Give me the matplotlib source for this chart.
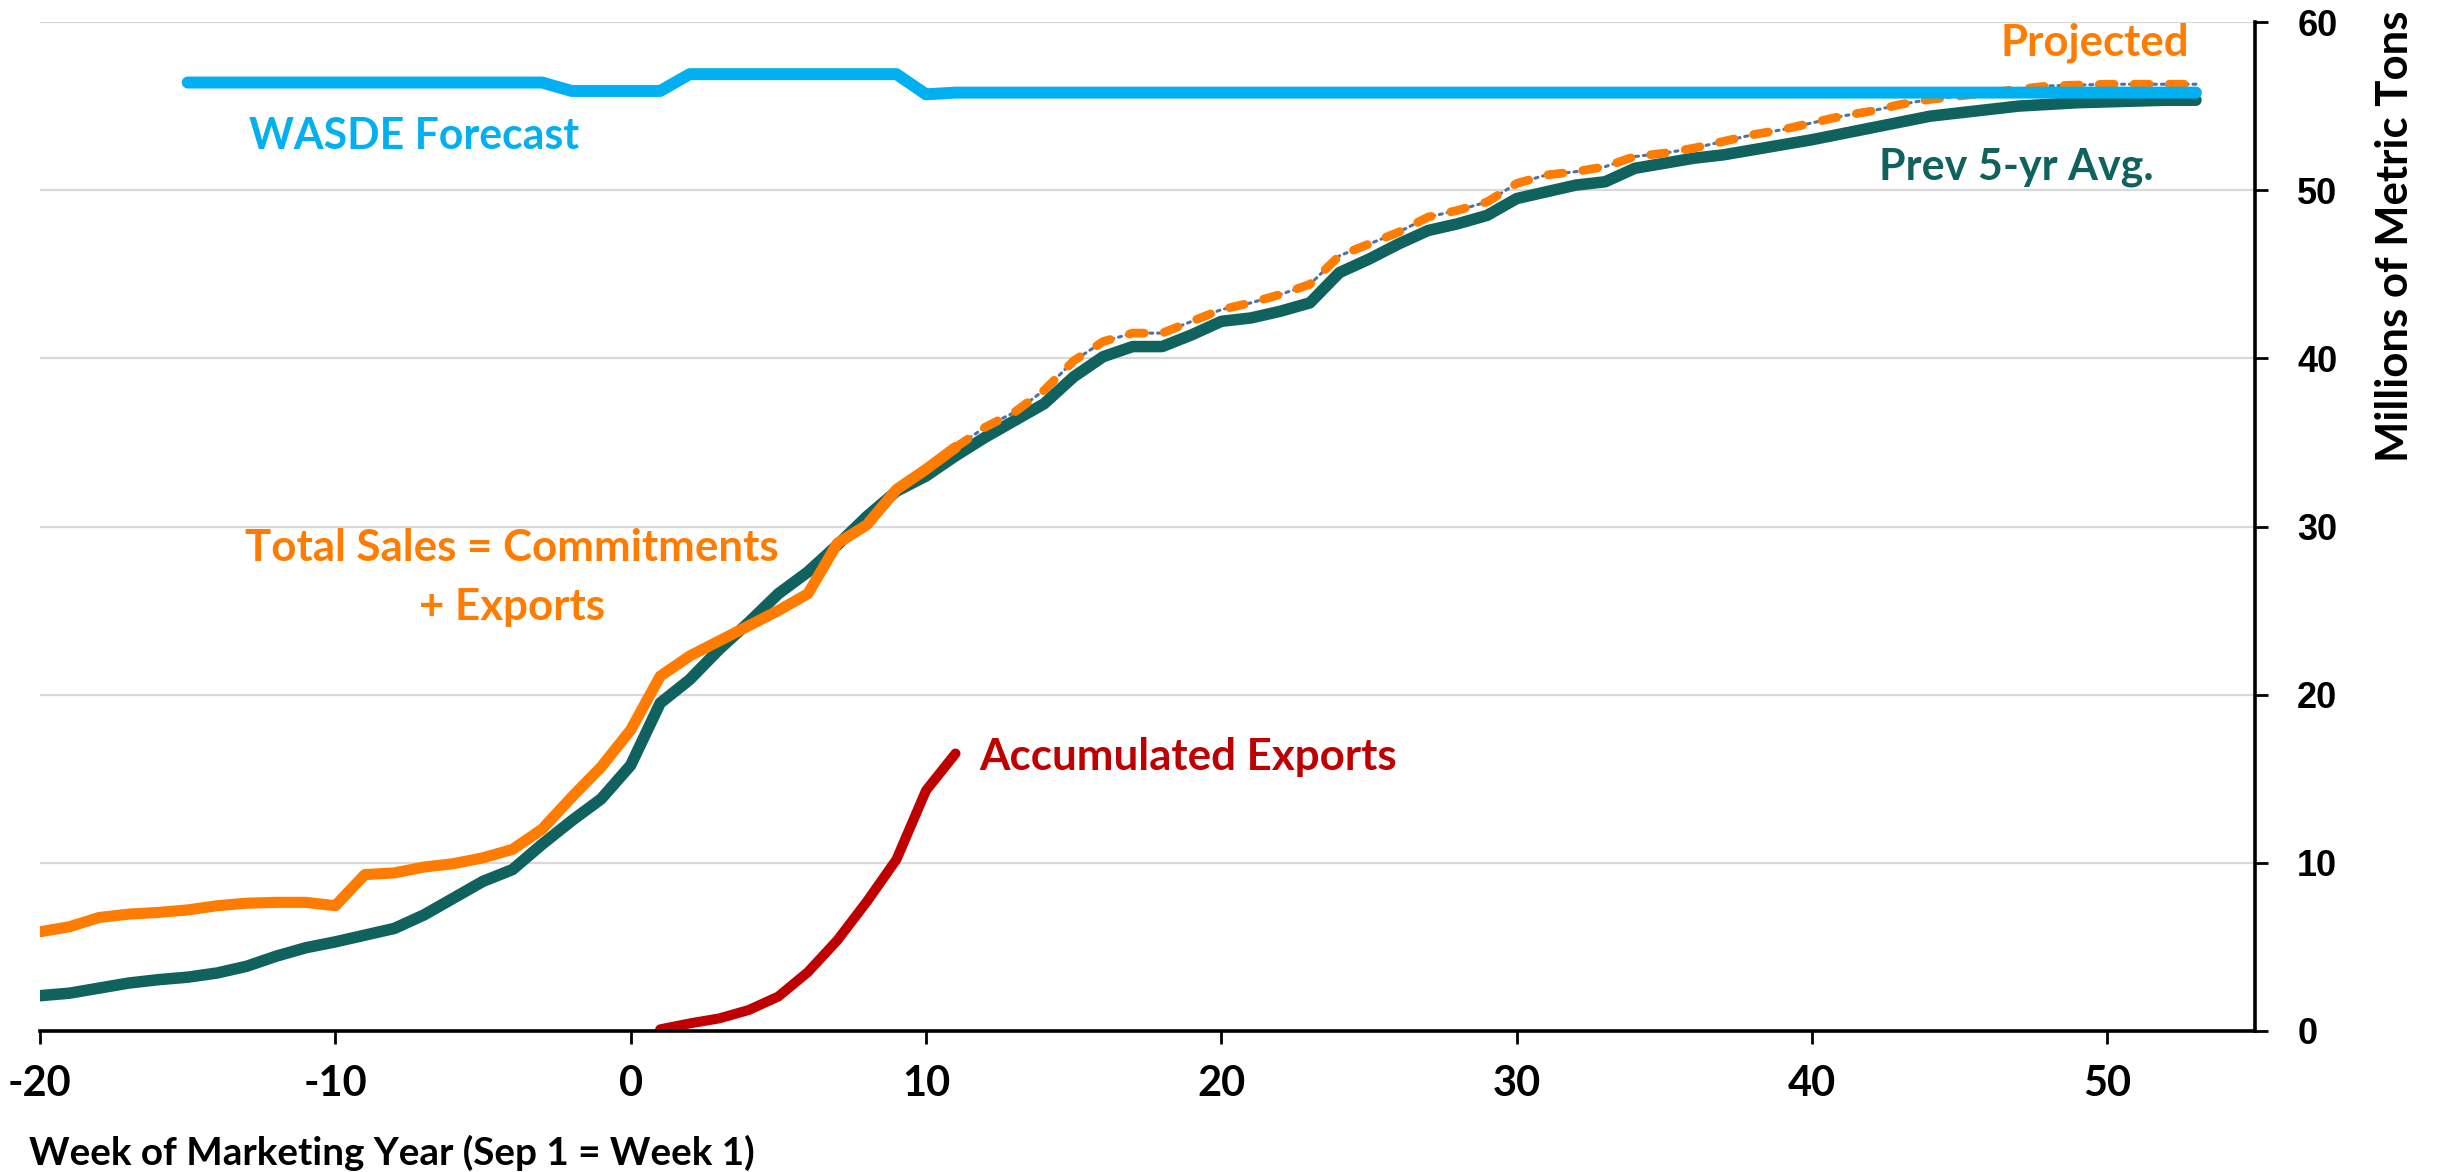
import matplotlib
matplotlib.use("Agg")
import matplotlib.pyplot as plt

# ---------------- data ----------------
weeks_total = list(range(-20, 12))
total_sales = [5.9, 6.2, 6.75, 6.95, 7.05, 7.2, 7.45, 7.6, 7.65, 7.65,
               7.45, 9.3, 9.4, 9.75, 9.95, 10.3, 10.8, 12.0, 13.9, 15.7,
               17.9, 21.1, 22.3, 23.2, 24.1, 25.0, 26.0, 29.0, 30.1, 32.2,
               33.4, 34.7]

weeks_proj = list(range(11, 54))
projected = [34.7, 35.9, 36.8, 38.1, 39.85, 41.0, 41.5, 41.5, 42.2, 42.9,
             43.3, 43.8, 44.4, 46.1, 46.8, 47.5, 48.4, 48.8, 49.3, 50.4,
             50.9, 51.1, 51.4, 52.0, 52.2, 52.5, 52.9, 53.3, 53.6, 54.0,
             54.4, 54.7, 55.1, 55.4, 55.6, 55.8, 56.0, 56.2, 56.25, 56.3,
             56.3, 56.3, 56.3]

weeks_avg = list(range(-20, 54))
prev_5yr_avg = [2.1, 2.25, 2.55, 2.85, 3.05, 3.2, 3.45, 3.85, 4.45, 4.95,
                5.3, 5.7, 6.1, 6.9, 7.9, 8.9, 9.6, 11.1, 12.5, 13.8,
                15.8, 19.5, 20.9, 22.7, 24.3, 26.0, 27.3, 28.9, 30.6, 32.1,
                33.0, 34.2, 35.3, 36.3, 37.3, 38.9, 40.1, 40.7, 40.7, 41.4,
                42.2, 42.4, 42.8, 43.3, 45.1, 45.9, 46.8, 47.6, 48.0, 48.5,
                49.5, 49.9, 50.3, 50.5, 51.3, 51.6, 51.9, 52.1, 52.4, 52.7,
                53.0, 53.35, 53.7, 54.05, 54.4, 54.6, 54.8, 55.0, 55.1, 55.2,
                55.25, 55.3, 55.35, 55.35]

weeks_exports = list(range(1, 12))
accumulated_exports = [0.1, 0.45, 0.75, 1.25, 2.05, 3.5, 5.4, 7.7, 10.2, 14.3, 16.5]

weeks_wasde = list(range(-15, 54))
wasde = [56.4, 56.4, 56.4, 56.4, 56.4, 56.4, 56.4, 56.4, 56.4, 56.4,
         56.4, 56.4, 56.4, 55.9, 55.9, 55.9, 55.9, 56.9, 56.9, 56.9,
         56.9, 56.9, 56.9, 56.9, 56.9, 55.7, 55.8, 55.8, 55.8, 55.8,
         55.8, 55.8, 55.8, 55.8, 55.8, 55.8, 55.8, 55.8, 55.8, 55.8,
         55.8, 55.8, 55.8, 55.8, 55.8, 55.8, 55.8, 55.8, 55.8, 55.8,
         55.8, 55.8, 55.8, 55.8, 55.8, 55.8, 55.8, 55.8, 55.8, 55.8,
         55.8, 55.8, 55.8, 55.8, 55.8, 55.8, 55.8, 55.8, 55.8]

x_ticks = [-20, -10, 0, 10, 20, 30, 40, 50]
y_ticks = [0, 10, 20, 30, 40, 50, 60]

# ---------------- style ----------------
C_ORANGE = "#FF7C00"
C_TEAL = "#10625F"
C_RED = "#C00000"
C_BLUE = "#00B0F0"
C_DOT = "#5270A0"
FONT = ["Lato", "DejaVu Sans"]

plt.rcParams["font.family"] = FONT

fig = plt.figure(figsize=(24.4, 11.72), dpi=100)
ax = fig.add_axes([40 / 2440, 1 - 1031 / 1172, (2255 - 40) / 2440, (1031 - 22) / 1172])

ax.set_xlim(-20, 55)
ax.set_ylim(0, 60)

# grid
ax.set_yticks(y_ticks)
ax.set_xticks(x_ticks)
ax.yaxis.grid(True, color="#D9D9D9", linewidth=1.6)
ax.set_axisbelow(True)

common = dict(solid_capstyle="round", solid_joinstyle="round")
ax.plot(weeks_avg, prev_5yr_avg, color=C_TEAL, lw=8.3, zorder=3, **common)
ax.plot(weeks_exports, accumulated_exports, color=C_RED, lw=7.2, zorder=4, **common)
ax.plot(weeks_total, total_sales, color=C_ORANGE, lw=8.0, zorder=5, **common)
ax.plot(weeks_proj, projected, color=C_DOT, lw=2.2, linestyle=(0, (1, 1.6)),
        dash_capstyle="round", zorder=5)
ax.plot(weeks_proj, projected, color=C_ORANGE, lw=6.3, linestyle=(0, (1.7, 2.3)),
        dash_capstyle="round", zorder=6)
ax.plot(weeks_wasde, wasde, color=C_BLUE, lw=8.6, zorder=7, **common)

# spines
for s in ["left", "top"]:
    ax.spines[s].set_visible(False)
ax.spines["bottom"].set_linewidth(2.6)
ax.spines["right"].set_linewidth(2.6)
ax.spines["bottom"].set_zorder(8)

ax.yaxis.tick_right()
ax.tick_params(axis="x", direction="out", length=9.4, width=2.0, pad=15,
               labelsize=30, labelcolor="black")
ax.tick_params(axis="y", direction="out", length=9.4, width=2.0, pad=21,
               labelsize=26)
ax.set_xticklabels([str(v) for v in x_ticks], fontweight="bold", family=FONT)
ax.set_yticklabels([str(v) for v in y_ticks], fontweight="bold",
                   family=["Liberation Sans", "DejaVu Sans"])

# axis titles
fig.text(29 / 2440, 1 - 1165 / 1172, "Week of Marketing Year (Sep 1 = Week 1)",
         fontsize=27.8, fontweight="bold", ha="left", va="baseline", color="black")
fig.text(2395 / 2440, 1 - 11 / 1172, "Millions of Metric Tons", rotation=90,
         fontsize=31.5, fontweight="bold", ha="center", va="top", color="black")

# annotations
ax.text(-12.93, 52.44, "WASDE Forecast", color=C_BLUE, fontsize=30.8,
        fontweight="bold", ha="left", va="baseline")
ax.text(-4.03, 27.92, "Total Sales = Commitments", color=C_ORANGE, fontsize=31.6,
        fontweight="bold", ha="center", va="baseline")
ax.text(-4.03, 24.46, "+ Exports", color=C_ORANGE, fontsize=31.6,
        fontweight="bold", ha="center", va="baseline")
ax.text(11.8, 15.54, "Accumulated Exports", color=C_RED, fontsize=31.6,
        fontweight="bold", ha="left", va="baseline")
ax.text(52.76, 57.99, "Projected", color=C_ORANGE, fontsize=31.5,
        fontweight="bold", ha="right", va="baseline")
ax.text(42.27, 50.65, "Prev 5-yr Avg.", color=C_TEAL, fontsize=31,
        fontweight="bold", ha="left", va="baseline")

fig.savefig("out.png", dpi=100)
